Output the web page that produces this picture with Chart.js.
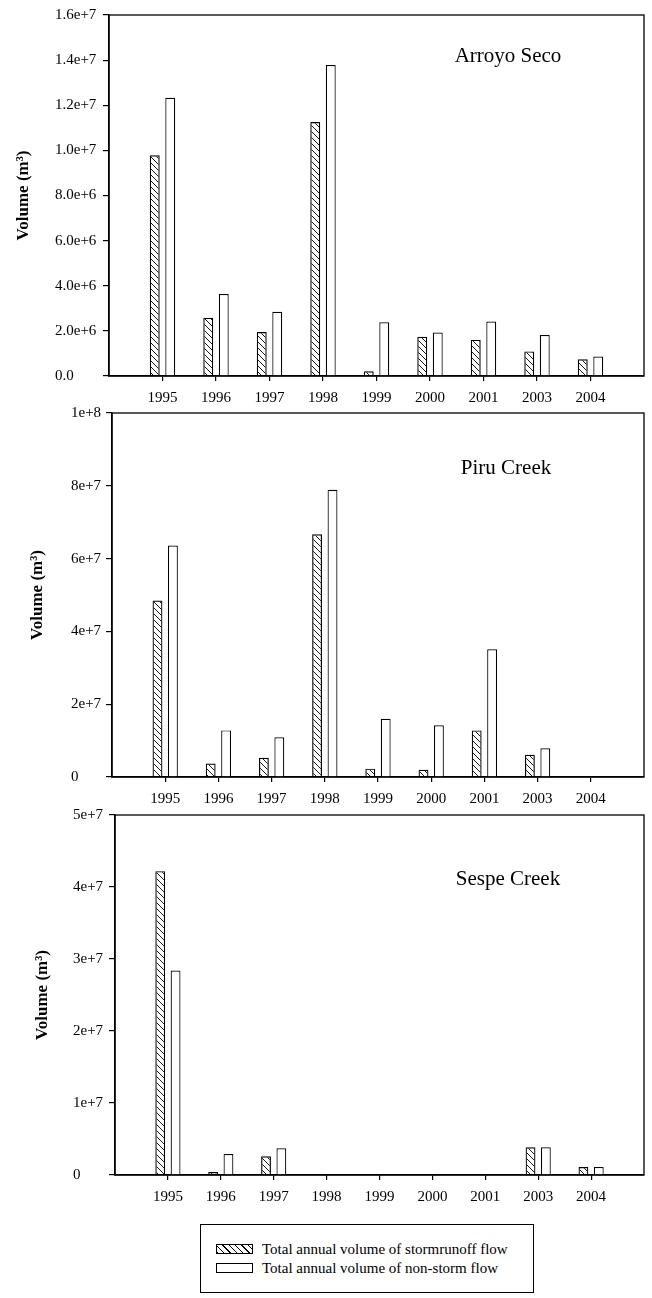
<!DOCTYPE html>
<html>
<head>
<meta charset="utf-8">
<script src="https://cdn.jsdelivr.net/npm/chart.js@4/dist/chart.umd.min.js"></script>
<style>
  html, body { margin: 0; padding: 0; background: #fff; }
  #page { position: relative; width: 652px; height: 1298px; background: #fff; overflow: hidden; }
  canvas { position: absolute; left: 0; }
  #legend {
    position: absolute; left: 200px; top: 1224px; width: 332px; height: 67px;
    border: 1px solid #000; font-family: "Liberation Serif", serif; font-size: 15px; color: #000;
  }
  .row { position: absolute; left: 15px; height: 18px; line-height: 18px; white-space: nowrap; }
  .sw { position: absolute; left: 0; top: 4px; width: 35px; height: 8px; border: 1px solid #000; }
  .sw.hatch { background: repeating-linear-gradient(45deg, #000 0 1px, #fff 1px 4.5px); }
  .txt { position: absolute; left: 46px; top: 0; }
</style>
</head>
<body>
<div id="page">
  <canvas id="arroyo" width="652" height="410" style="top:0px"></canvas>
  <canvas id="piru" width="652" height="410" style="top:400px"></canvas>
  <canvas id="sespe" width="652" height="420" style="top:800px"></canvas>
  <div id="legend">
    <div class="row" style="top:15px"><div class="sw hatch"></div><span class="txt">Total annual volume of stormrunoff flow</span></div>
    <div class="row" style="top:34px"><div class="sw"></div><span class="txt">Total annual volume of non-storm flow</span></div>
  </div>
</div>
<script>
// Water years on the x axis (2002 has no record)
const years = ['1995', '1996', '1997', '1998', '1999', '2000', '2001', '2003', '2004'];

// Annual volumes, m3
const arroyoStorm = [9.78e6, 2.58e6, 1.95e6, 11.26e6, 0.21e6, 1.74e6, 1.60e6, 1.09e6, 0.74e6];
const arroyoBase  = [12.33e6, 3.63e6, 2.85e6, 13.78e6, 2.38e6, 1.93e6, 2.41e6, 1.82e6, 0.86e6];
const piruStorm   = [48.5e6, 3.7e6, 5.3e6, 66.7e6, 2.3e6, 2.0e6, 12.8e6, 6.1e6, 0];
const piruBase    = [63.6e6, 12.8e6, 10.9e6, 78.9e6, 16.0e6, 14.2e6, 35.1e6, 7.9e6, 0];
const sespeStorm  = [42.2e6, 0.42e6, 2.6e6, 0, 0, 0, 0, 3.84e6, 1.1e6];
const sespeBase   = [28.4e6, 2.9e6, 3.7e6, 0, 0, 0, 0, 3.84e6, 1.1e6];

// Y tick labels as printed on each panel
const arroyoTicks = ['0.0', '2.0e+6', '4.0e+6', '6.0e+6', '8.0e+6', '1.0e+7', '1.2e+7', '1.4e+7', '1.6e+7'];
const piruTicks   = ['0', '2e+7', '4e+7', '6e+7', '8e+7', '1e+8'];
const sespeTicks  = ['0', '1e+7', '2e+7', '3e+7', '4e+7', '5e+7'];

const SERIF = '"Liberation Serif", "Times New Roman", serif';
Chart.defaults.font.family = SERIF;
Chart.defaults.color = '#000';

// empty slot at each end so the years sit one step in from the frame
const slots = [''].concat(years, ['']);
const pad = arr => [null].concat(arr, [null]);

function hatch(ctx) {
  const c = document.createElement('canvas');
  c.width = 6; c.height = 6;
  const g = c.getContext('2d');
  g.strokeStyle = '#000';
  g.lineWidth = 0.9;
  g.beginPath();
  g.moveTo(-1, -1); g.lineTo(7, 7);
  g.moveTo(-1, 5); g.lineTo(1, 7);
  g.moveTo(5, -1); g.lineTo(7, 1);
  g.stroke();
  return ctx.createPattern(c, 'repeat');
}

// frame around the plot area plus the site name inside it
const framePlugin = {
  id: 'frame',
  afterDraw(chart, args, opts) {
    const { ctx, chartArea: a } = chart;
    ctx.save();
    ctx.strokeStyle = '#000';
    ctx.lineWidth = 1.3;
    ctx.strokeRect(a.left, a.top, a.right - a.left, a.bottom - a.top);
    ctx.font = '21px ' + SERIF;
    ctx.fillStyle = '#000';
    ctx.textAlign = 'center';
    ctx.textBaseline = 'middle';
    ctx.fillText(opts.name, opts.x, opts.y);
    ctx.restore();
  }
};

function panel(id, cfg) {
  const canvas = document.getElementById(id);
  const ctx = canvas.getContext('2d');
  const H = canvas.height;
  const last = slots.length - 1;
  return new Chart(ctx, {
    type: 'bar',
    data: {
      labels: slots,
      datasets: [
        {
          label: 'Total annual volume of stormrunoff flow',
          data: pad(cfg.storm),
          backgroundColor: hatch(ctx),
          borderColor: '#000',
          borderWidth: 1.2
        },
        {
          label: 'Total annual volume of non-storm flow',
          data: pad(cfg.base),
          backgroundColor: '#fff',
          borderColor: '#000',
          borderWidth: 1.2
        }
      ]
    },
    options: {
      responsive: false,
      animation: false,
      devicePixelRatio: 1,
      categoryPercentage: 0.58,
      barPercentage: 0.64,
      layout: { padding: { left: cfg.labelLeft, top: cfg.top, right: 652 - cfg.right, bottom: 0 } },
      plugins: {
        legend: { display: false },
        tooltip: { enabled: false },
        frame: { name: cfg.name, x: cfg.nameX, y: cfg.nameY }
      },
      scales: {
        x: {
          offset: false,
          grid: {
            offset: false,
            drawOnChartArea: false,
            tickLength: 5,
            lineWidth: 1.2,
            color: c => (c.index === 0 || c.index === last) ? 'rgba(0,0,0,0)' : '#000'
          },
          border: { color: '#000', width: 1.5 },
          ticks: { autoSkip: false, maxRotation: 0, padding: 8, font: { size: 15 } },
          afterFit: s => { s.height = H - cfg.bottom; }
        },
        y: {
          min: 0,
          max: cfg.max,
          ticks: {
            stepSize: cfg.step,
            crossAlign: 'far',
            font: { size: 15 },
            callback: (v, i) => cfg.ticks[i]
          },
          grid: { drawOnChartArea: false, tickLength: 6, lineWidth: 1.2, color: '#000' },
          border: { color: '#000', width: 1.5 },
          title: {
            display: true,
            text: 'Volume (m³)',
            font: { size: 17, weight: 'bold' },
            padding: { top: cfg.titleX - cfg.labelLeft - 10.2, bottom: 0 }
          },
          afterFit: s => { s.width = cfg.left - cfg.labelLeft; }
        }
      }
    },
    plugins: [framePlugin]
  });
}

panel('arroyo', {
  storm: arroyoStorm, base: arroyoBase, ticks: arroyoTicks, max: 1.6e7, step: 2e6,
  left: 109, right: 645, top: 15, bottom: 376, labelLeft: 55, titleX: 24,
  name: 'Arroyo Seco', nameX: 508, nameY: 56
});

panel('piru', {
  storm: piruStorm, base: piruBase, ticks: piruTicks, max: 1e8, step: 2e7,
  left: 112, right: 650, top: 13, bottom: 377, labelLeft: 71, titleX: 38,
  name: 'Piru Creek', nameX: 506, nameY: 68
});

panel('sespe', {
  storm: sespeStorm, base: sespeBase, ticks: sespeTicks, max: 5e7, step: 1e7,
  left: 115, right: 651, top: 15, bottom: 375, labelLeft: 73, titleX: 43,
  name: 'Sespe Creek', nameX: 508, nameY: 79
});
</script>
</body>
</html>
